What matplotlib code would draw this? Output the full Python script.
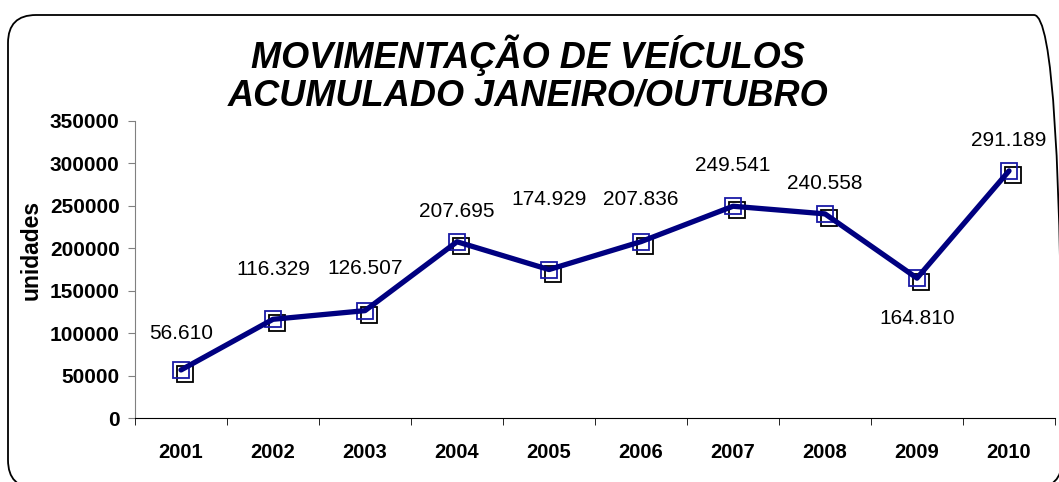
import matplotlib
matplotlib.use("Agg")
import matplotlib.pyplot as plt
from matplotlib.patches import FancyBboxPatch
from matplotlib.transforms import offset_copy
from matplotlib.ticker import FixedLocator, NullFormatter

plt.rcParams['font.family'] = ['Liberation Sans', 'DejaVu Sans']

years = ['2001', '2002', '2003', '2004', '2005', '2006', '2007', '2008', '2009', '2010']
values = [56610, 116329, 126507, 207695, 174929, 207836, 249541, 240558, 164810, 291189]
labels = ['56.610', '116.329', '126.507', '207.695', '174.929', '207.836',
          '249.541', '240.558', '164.810', '291.189']
yticks = [0, 50000, 100000, 150000, 200000, 250000, 300000, 350000]
title = 'MOVIMENTAÇÃO DE VEÍCULOS\nACUMULADO JANEIRO/OUTUBRO'
ylabel = 'unidades'

# label vertical offsets in pixels (style/position only)
label_dy = [36, 50, 42, 30, 70, 42, 41, 30, -40, 30]

W, H = 1059, 482
fig = plt.figure(figsize=(W / 100, H / 100), dpi=100)
fig.patch.set_facecolor('white')

# background axes in pixel units for the rounded border
bg = fig.add_axes([0, 0, 1, 1], zorder=-10)
bg.set_xlim(0, W)
bg.set_ylim(0, H)
bg.axis('off')
bg.add_patch(FancyBboxPatch((8, H - 488), 1062 - 8, 488 - 15,
                            boxstyle="round,pad=0,rounding_size=28",
                            facecolor='none', edgecolor='black', linewidth=1.3,
                            clip_on=False))

ax = fig.add_axes([135 / W, (H - 418) / H, (1055 - 135) / W, (418 - 121) / H])
x = list(range(len(years)))

shadow = offset_copy(ax.transData, fig=fig, x=4, y=-4, units='dots')
ax.plot(x, values, linestyle='none', marker='s', markersize=11,
        markerfacecolor='none', markeredgecolor='black', markeredgewidth=1.3,
        transform=shadow, zorder=3)
ax.plot(x, values, linestyle='none', marker='s', markersize=11,
        markerfacecolor='none', markeredgecolor='#1a1aa6', markeredgewidth=1.3,
        zorder=4)
ax.plot(x, values, color='#000080', linewidth=3.8, solid_capstyle='round', zorder=5)

for xi, v, lab, dy in zip(x, values, labels, label_dy):
    ax.annotate(lab, (xi, v), xytext=(0, dy), textcoords='offset pixels',
                ha='center', va='center', fontsize=15, color='black')

ax.set_xlim(-0.5, len(years) - 0.5)
ax.set_ylim(0, 350000)
ax.set_yticks(yticks)
ax.set_yticklabels([str(t) for t in yticks], fontsize=15, fontweight='bold')
ax.set_xticks(x)
ax.set_xticklabels(years, fontsize=14.5, fontweight='bold')
ax.xaxis.set_minor_locator(FixedLocator([i - 0.5 for i in range(len(years) + 1)]))
ax.xaxis.set_minor_formatter(NullFormatter())
ax.tick_params(axis='x', which='major', length=0, pad=18)
ax.tick_params(axis='x', which='minor', length=5, color='black', direction='out')
ax.tick_params(axis='y', length=5, color='#808080', direction='out', pad=6)

for s in ['top', 'right']:
    ax.spines[s].set_visible(False)
ax.spines['left'].set_color('#808080')
ax.spines['bottom'].set_color('black')
ax.set_facecolor('none')

fig.text(31 / W, (H - 250) / H, ylabel, rotation=90, ha='center', va='center',
         fontsize=16.5, fontweight='bold')
fig.text(528 / W, (H - 74) / H, title, ha='center', va='center', fontsize=26,
         fontweight='bold', fontstyle='italic', linespacing=1.1)

fig.savefig('out.png', dpi=100)
